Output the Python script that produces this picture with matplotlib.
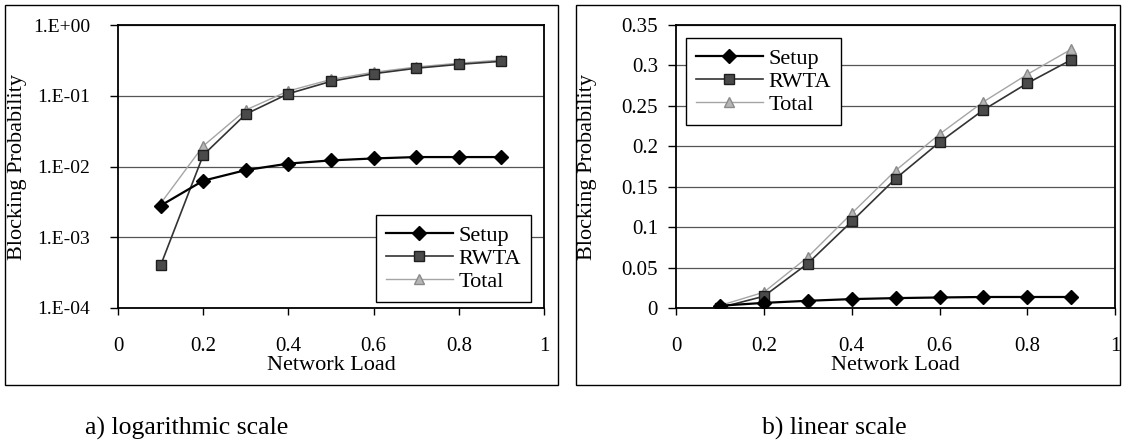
import matplotlib.pyplot as plt
import matplotlib.patches as patches
import matplotlib.ticker as ticker

load = [0.1, 0.2, 0.3, 0.4, 0.5, 0.6, 0.7, 0.8, 0.9]
setup = [0.0028, 0.0063, 0.0089, 0.0110, 0.0122, 0.0130, 0.0136, 0.0136, 0.0136]
rwta = [0.0004, 0.0145, 0.055, 0.107, 0.160, 0.205, 0.245, 0.278, 0.307]
total = [0.0030, 0.0195, 0.063, 0.117, 0.170, 0.215, 0.255, 0.289, 0.320]

log_ticks = [1e-4, 1e-3, 1e-2, 1e-1, 1e0]
log_labels = ["1.E-04", "1.E-03", "1.E-02", "1.E-01", "1.E+00"]
lin_ticks = [0, 0.05, 0.1, 0.15, 0.2, 0.25, 0.3, 0.35]
lin_labels = ["0", "0.05", "0.1", "0.15", "0.2", "0.25", "0.3", "0.35"]
x_ticks = [0, 0.2, 0.4, 0.6, 0.8, 1]
x_labels = ["0", "0.2", "0.4", "0.6", "0.8", "1"]

plt.rcParams["font.family"] = ["Liberation Serif", "DejaVu Serif"]


def draw_series(ax):
    ax.plot(load, setup, color="black", lw=1.6, marker="D", ms=7,
            mfc="black", mec="black", label="Setup", zorder=4)
    ax.plot(load, rwta, color="#333333", lw=1.2, marker="s", ms=7,
            mfc="#4a4a4a", mec="#1e1e1e", label="RWTA", zorder=3)
    ax.plot(load, total, color="#a5a5a5", lw=1.0, marker="^", ms=7.5,
            mfc="#b5b5b5", mec="#8a8a8a", label="Total", zorder=2)


def style_axes(ax, ytick_size, ytick_pad, ylabel_x):
    ax.set_xlim(0, 1)
    ax.set_xticks(x_ticks)
    ax.set_xticklabels(x_labels)
    ax.yaxis.grid(True, color="#555555", lw=0.9)
    ax.set_axisbelow(True)
    for s in ax.spines.values():
        s.set_color("black")
        s.set_linewidth(1.3)
    ax.tick_params(axis="x", direction="out", length=5, width=1,
                   labelsize=15, pad=16)
    ax.tick_params(axis="y", direction="out", length=6, width=1,
                   labelsize=ytick_size, pad=ytick_pad)
    ax.set_xlabel("Network Load", fontsize=16, labelpad=0)
    ax.set_ylabel("Blocking Probability", fontsize=16)
    ax.yaxis.set_label_coords(ylabel_x, 0.5)


def add_legend(ax, loc, anchor):
    leg = ax.legend(loc=loc, bbox_to_anchor=anchor, borderaxespad=0, fontsize=16,
                    fancybox=False, edgecolor="black", framealpha=1,
                    handlelength=3.0, borderpad=0.45, labelspacing=0.12,
                    handletextpad=0.25)
    leg.get_frame().set_linewidth(1.0)


fig = plt.figure(figsize=(11.23, 4.47), dpi=100)

# outer chart frames
fig.patches.append(patches.Rectangle((0.0045, 0.139), 0.4925, 0.85, transform=fig.transFigure,
                                     fill=False, ec="black", lw=1.0))
fig.patches.append(patches.Rectangle((0.513, 0.139), 0.484, 0.85, transform=fig.transFigure,
                                     fill=False, ec="black", lw=1.0))

ax1 = fig.add_axes([0.1051, 0.3110, 0.3793, 0.6330])
draw_series(ax1)
ax1.set_yscale("log")
ax1.set_ylim(1e-4, 1)
ax1.set_yticks(log_ticks)
ax1.set_yticklabels(log_labels)
ax1.yaxis.set_minor_locator(ticker.NullLocator())
style_axes(ax1, 14, 14, -0.2136)
add_legend(ax1, "lower right", (0.9695, 0.021))

ax2 = fig.add_axes([0.602, 0.3110, 0.391, 0.6330])
draw_series(ax2)
ax2.set_ylim(0, 0.35)
ax2.set_yticks(lin_ticks)
ax2.set_yticklabels(lin_labels)
style_axes(ax2, 15, 7, -0.18)
add_legend(ax2, "upper left", (0.0228, 0.954))

fig.text(0.0757, 0.042, "a) logarithmic scale", fontsize=18.5, ha="left", va="center")
fig.text(0.6785, 0.042, "b) linear scale", fontsize=18.5, ha="left", va="center")

fig.savefig("out.png", dpi=100)
